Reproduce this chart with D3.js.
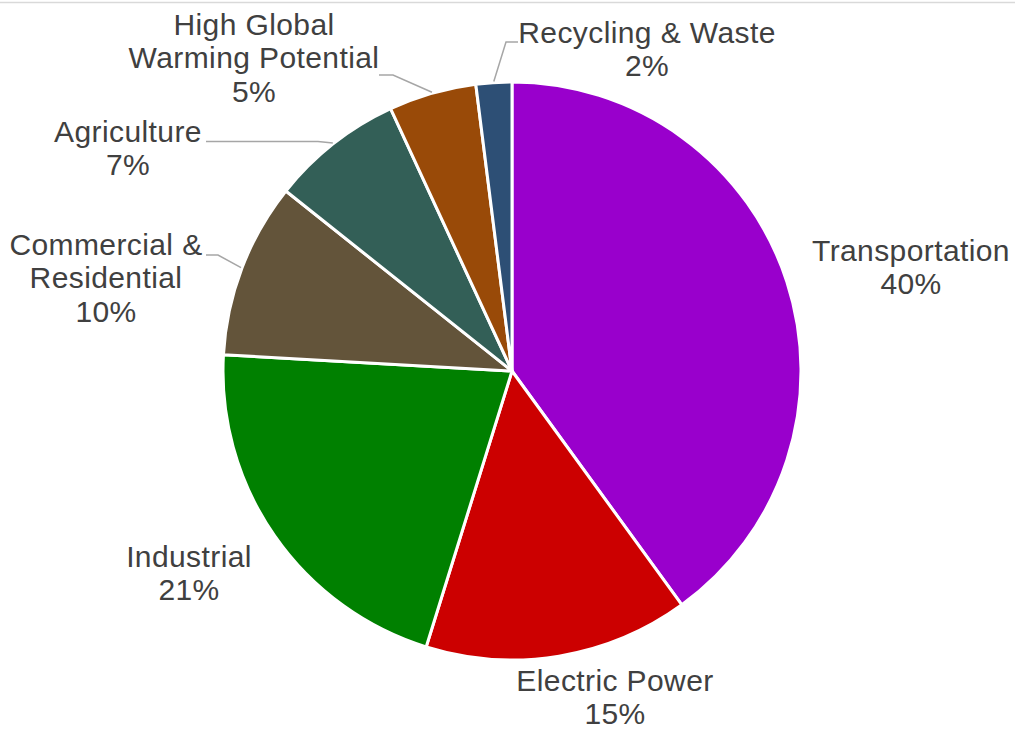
<!DOCTYPE html>
<html>
<head>
<meta charset="utf-8">
<script src="https://cdn.jsdelivr.net/npm/d3@7"></script>
<style>
  html, body { margin: 0; padding: 0; background: #ffffff; }
  svg { display: block; }
</style>
</head>
<body>
<svg id="chart" width="1015" height="731"></svg>
<script>
// ---- data ----
const categories = ["Transportation", "Electric Power", "Industrial", "Commercial & Residential",
                    "Agriculture", "High Global Warming Potential", "Recycling & Waste"];
const values = [40.0, 14.8, 21.1, 9.8, 7.4, 4.9, 2.0];
const labelLines = [["Transportation"], ["Electric Power"], ["Industrial"], ["Commercial &", "Residential"],
                    ["Agriculture"], ["High Global", "Warming Potential"], ["Recycling & Waste"]];
const colors = ["#9900cc", "#cc0000", "#008000", "#63543a", "#335f57", "#994a08", "#2d4f75"];

// ---- layout (label anchors: center x, first baseline y) ----
const W = 1015, H = 731;
const cx = 512, cy = 371, R = 289;
const lineGap = 33.3;
const labelPos = [[911, 261], [615, 691], [189, 567], [106, 255], [128, 142], [254, 35], [647, 43]];
// leader lines: [text-side point, elbow] (null = no leader)
const leaders = [null, null, null, [[206, 255], [218, 255]], [[206, 141.5], [318, 141.5]],
                 [[379, 75], [393, 75]], [[518, 42], [506, 42]]];

const svg = d3.select("#chart");
svg.append("rect").attr("width", W).attr("height", H).attr("fill", "#ffffff");
// top frame edge
svg.append("line").attr("x1", 0).attr("x2", W).attr("y1", 2.5).attr("y2", 2.5)
  .attr("stroke", "#d9d9d9").attr("stroke-width", 1.5);

const total = d3.sum(values);
const pie = d3.pie().sort(null).value(d => d)(values);
const arc = d3.arc().innerRadius(0).outerRadius(R);

const g = svg.append("g").attr("transform", `translate(${cx},${cy})`);
g.selectAll("path.slice").data(pie).join("path")
  .attr("class", "slice")
  .attr("d", arc)
  .attr("fill", (d, i) => colors[i])
  .attr("stroke", "#ffffff")
  .attr("stroke-width", 3)
  .attr("stroke-linejoin", "round");

// leader lines
pie.forEach((d, i) => {
  if (!leaders[i]) return;
  const a = (d.startAngle + d.endAngle) / 2;
  const edge = [cx + (R + 1) * Math.sin(a), cy - (R + 1) * Math.cos(a)];
  const pts = [leaders[i][0], leaders[i][1], edge];
  svg.append("path")
    .attr("d", d3.line()(pts))
    .attr("fill", "none")
    .attr("stroke", "#a6a6a6")
    .attr("stroke-width", 1.5);
});

// labels
pie.forEach((d, i) => {
  const lines = labelLines[i].concat([Math.round(d.value / total * 100) + "%"]);
  const t = svg.append("text")
    .attr("text-anchor", "middle")
    .attr("font-family", "'Liberation Sans', Arial, sans-serif")
    .attr("font-size", 30)
    .attr("letter-spacing", 0.4)
    .attr("fill", "#404040");
  lines.forEach((s, k) => {
    t.append("tspan").attr("x", labelPos[i][0]).attr("y", labelPos[i][1] + k * lineGap).text(s);
  });
});
</script>
</body>
</html>
